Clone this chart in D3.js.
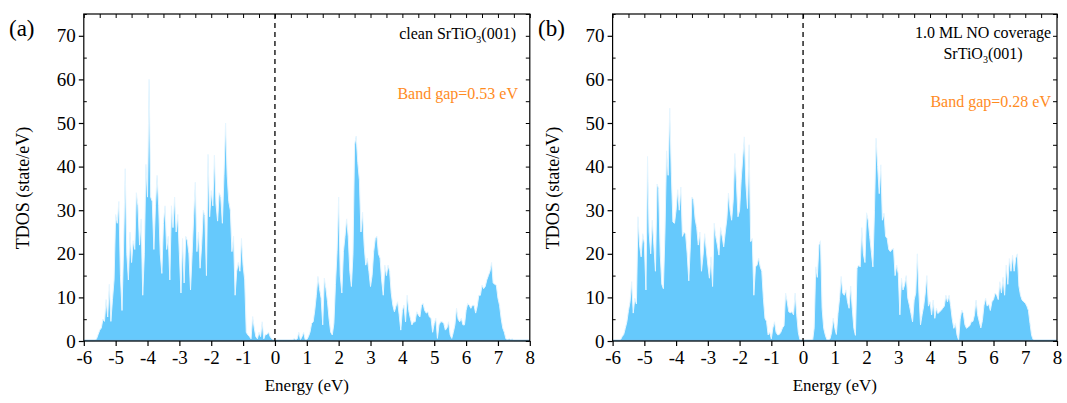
<!DOCTYPE html>
<html>
<head>
<meta charset="utf-8">
<script src="https://cdn.jsdelivr.net/npm/d3@7/dist/d3.min.js"></script>
<style>
  body { margin: 0; background: #fff; }
  svg { display: block; }
  svg text { font-family: "Liberation Serif", "Times New Roman", Times, "DejaVu Serif", serif; }
</style>
</head>
<body>
<svg id="chart" width="1067" height="403"></svg>
<script>
// energy grid (eV), 0.05 eV sampling
var energy = [
  -6,-5.95,-5.9,-5.85,-5.8,-5.75,-5.7,-5.65,-5.6,-5.55,-5.5,-5.45,-5.4,-5.35,-5.3,-5.25,-5.2,-5.15,-5.1,-5.05,
  -5,-4.95,-4.9,-4.85,-4.8,-4.75,-4.7,-4.65,-4.6,-4.55,-4.5,-4.45,-4.4,-4.35,-4.3,-4.25,-4.2,-4.15,-4.1,-4.05,
  -4,-3.95,-3.9,-3.85,-3.8,-3.75,-3.7,-3.65,-3.6,-3.55,-3.5,-3.45,-3.4,-3.35,-3.3,-3.25,-3.2,-3.15,-3.1,-3.05,
  -3,-2.95,-2.9,-2.85,-2.8,-2.75,-2.7,-2.65,-2.6,-2.55,-2.5,-2.45,-2.4,-2.35,-2.3,-2.25,-2.2,-2.15,-2.1,-2.05,
  -2,-1.95,-1.9,-1.85,-1.8,-1.75,-1.7,-1.65,-1.6,-1.55,-1.5,-1.45,-1.4,-1.35,-1.3,-1.25,-1.2,-1.15,-1.1,-1.05,
  -1,-0.95,-0.9,-0.85,-0.8,-0.75,-0.7,-0.65,-0.6,-0.55,-0.5,-0.45,-0.4,-0.35,-0.3,-0.25,-0.2,-0.15,-0.1,-0.05,
  0,0.05,0.1,0.15,0.2,0.25,0.3,0.35,0.4,0.45,0.5,0.55,0.6,0.65,0.7,0.75,0.8,0.85,0.9,0.95,
  1,1.05,1.1,1.15,1.2,1.25,1.3,1.35,1.4,1.45,1.5,1.55,1.6,1.65,1.7,1.75,1.8,1.85,1.9,1.95,
  2,2.05,2.1,2.15,2.2,2.25,2.3,2.35,2.4,2.45,2.5,2.55,2.6,2.65,2.7,2.75,2.8,2.85,2.9,2.95,
  3,3.05,3.1,3.15,3.2,3.25,3.3,3.35,3.4,3.45,3.5,3.55,3.6,3.65,3.7,3.75,3.8,3.85,3.9,3.95,
  4,4.05,4.1,4.15,4.2,4.25,4.3,4.35,4.4,4.45,4.5,4.55,4.6,4.65,4.7,4.75,4.8,4.85,4.9,4.95,
  5,5.05,5.1,5.15,5.2,5.25,5.3,5.35,5.4,5.45,5.5,5.55,5.6,5.65,5.7,5.75,5.8,5.85,5.9,5.95,
  6,6.05,6.1,6.15,6.2,6.25,6.3,6.35,6.4,6.45,6.5,6.55,6.6,6.65,6.7,6.75,6.8,6.85,6.9,6.95,
  7,7.05,7.1,7.15,7.2,7.25,7.3,7.35,7.4,7.45,7.5,7.55,7.6,7.65,7.7,7.75,7.8,7.85,7.9,7.95,
  8
];

// (a) clean SrTiO3(001)
var tdosClean = [
  0,0,0,0,0,0,0,0,0.5,1.5,2.5,3,5,4.5,9.5,5.5,13,4.5,9.5,14,
  29,27,32,15,7,22,39.5,20,14,25,18,23,21,34,31,22,28,10.5,20,40.5,
  33,60,33,32,21,31,38,31,20,15.5,27,31,21,24,14,31,26,33,25,29,
  20,11,23.5,13.3,24,23,20,11.7,20,28.8,36.4,20.5,25,16.7,22,30,28.8,15,42.8,28.5,
  34.5,31,42.6,31.4,27.5,34,33,27,38,50,38,32,30,20.5,24,10.5,16,18,16,23.5,
  17.4,14,2,1.4,1,0.5,5.6,3,1,0.5,2,1,4.4,0.5,1.5,1.5,2,1,0.5,0.2,
  0,0,0,0,0,0,0,0,0,0,0,0,0.6,0.2,0.5,2,0.3,1,2,0.3,
  0.3,1,2,4,4.4,7,10.5,14.8,12,9.8,3.7,14.4,12,9,5,2,1.4,4,13,20.5,
  33,15,11,20.5,24,28,24,16,12.5,20,45,47,41,37,25,29.5,22,17.4,19,16,
  12.5,15,20.5,23.5,24,20,19,14,10.5,17.4,15,17.4,16,11,8.2,6.7,8,9,6,2.5,
  7,8.2,4.4,10.5,7,5.2,3.7,4.4,4.4,6.7,6,5.5,8.2,8.6,7,6.4,6.7,5.5,5.2,2,
  4,5.2,0.6,3.7,4.4,4.4,4,2.5,3,4.4,1.4,0.6,2,3.7,7.5,5,4.4,5.2,3.7,3.7,
  7,8.6,8.2,7.5,8.2,8.2,6.4,8,10.5,10.5,12.8,12,12.5,14,15,16,18,13.3,13,12.8,
  9.8,8.2,5.2,3,2,0.5,0.3,0.5,0.3,0.5,0,0,0,0,0,0,0,0,0,0,
  0
];

// (b) 1.0 ML NO coverage SrTiO3(001)
var tdosNO = [
  0,0,0,0,0,0.3,1,1.5,2.9,4.4,7,9,13.6,6.4,9.8,8.5,28.5,22,19.3,24.6,
  22.4,11.7,42.3,25,20,27.7,22,16,36,35,20,13,12,25,43.6,38,53.4,38.5,27.3,27,
  30,34.7,30,35.3,24,25,24.5,20,13.8,22,33,32.4,28,26,22,25,16,19.7,24.6,21,
  17.4,14.4,19.3,12.5,27,24,22,19.7,26,24,21.6,25,28,33.9,30,27.7,32.3,43,36.5,28.5,
  30,36.9,42,46.8,36,30.4,45,22.8,23.5,10.5,17,17.4,19,17,16,9.8,5.2,4.5,1.4,2,
  0.5,3,4.4,2,1.4,1.5,2,3,3.5,11,9,6.7,6.5,6.7,6,11,6,2,0.3,0,
  0,0,0,0,0,0,0,3,17,14.6,22,23,7.5,2.9,1.4,0.3,0.2,0.5,2,5.2,
  2.9,1.5,6.3,9.8,14.8,11,10.5,11.7,9,7.5,12.6,7.5,2.9,1.3,16.7,17.4,17,26,20,18,
  29.4,27.7,24,20.5,17,30,46.5,40,33.8,40.4,27.7,29.3,24,23.5,21,20.5,21,21.2,15,17.4,
  15.4,6,14.4,11.7,12.9,15,9.8,8.2,6.3,4.4,9.4,11,20,11,3.7,6,8,11,15,8,
  9,6,9.4,5.2,7.5,6.3,6.7,7,7.5,8,10.5,9,10.5,8,5,2.9,4,1.4,0.2,5,
  7.1,6.3,3.7,2.9,3.2,3.5,4.4,4.5,6,9.4,6,4.5,3,4.7,8.2,9.8,8,8.5,7,9,
  9.5,11,10.5,9.5,13.6,11,14.6,10.5,17.4,13,18.9,16,19.7,16,19,20,12.6,10.5,9.4,9,
  8.7,8,7,4,1.3,0.3,0,0,0,0,0,0,0,0,0,0,0,0,0,0,
  0
];

var xTicks = [-6, -5, -4, -3, -2, -1, 0, 1, 2, 3, 4, 5, 6, 7, 8];
var yTicks = [0, 10, 20, 30, 40, 50, 60, 70];
var yMinor = [5, 15, 25, 35, 45, 55, 65, 75];

var svg = d3.select('#chart');

var panels = [
  { tag: '(a)', tagX: 9, x0: 83.8, x1: 529.8, values: tdosClean, titleX: 29,
    notes: [{ lines: [['clean SrTiO', '3', '(001)']], x: 516, y: 39, anchor: 'end' }],
    gap: 'Band gap=0.53 eV', gapY: 99, gapX: 518 },
  { tag: '(b)', tagX: 538, x0: 612.6, x1: 1057, values: tdosNO, titleX: 559,
    notes: [{ lines: [['1.0 ML NO coverage'], ['SrTiO', '3', '(001)']], x: 983, y: 38, anchor: 'middle' }],
    gap: 'Band gap=0.28 eV', gapY: 107, gapX: 1051 }
];

panels.forEach(function (p) {
  var x = d3.scaleLinear().domain([-6, 8]).range([p.x0, p.x1]);
  var y = d3.scaleLinear().domain([0, 75]).range([341, 14]);
  var g = svg.append('g');

  var area = d3.area()
    .x(function (d, i) { return x(energy[i]); })
    .y0(y(0))
    .y1(function (d) { return y(d); });
  var edge = d3.line()
    .x(function (d, i) { return x(energy[i]); })
    .y(function (d) { return y(d); });

  g.append('path').datum(p.values).attr('d', area).attr('fill', '#66c9fc');
  g.append('path').datum(p.values).attr('d', edge)
    .attr('fill', 'none').attr('stroke', '#e6f6ff').attr('stroke-width', 1);

  // zero level line
  g.append('line')
    .attr('x1', x(-6)).attr('x2', x(8)).attr('y1', y(0) - 0.5).attr('y2', y(0) - 0.5)
    .attr('stroke', '#7ab9e2').attr('stroke-width', 1.5);

  // Fermi level
  g.append('line')
    .attr('x1', x(0)).attr('x2', x(0)).attr('y1', y(75)).attr('y2', y(0))
    .attr('stroke', '#000').attr('stroke-width', 1.3).attr('stroke-dasharray', '5,4');

  // frame
  g.append('rect')
    .attr('x', x(-6)).attr('y', y(75)).attr('width', x(8) - x(-6)).attr('height', y(0) - y(75))
    .attr('fill', 'none').attr('stroke', '#000').attr('stroke-width', 1.2);

  var xAxis = g.append('g').attr('transform', 'translate(0,' + y(0) + ')')
    .call(d3.axisBottom(x).tickValues(xTicks).tickSize(5).tickPadding(5)
      .tickFormat(function (d) { return String(d); }));
  var yAxis = g.append('g').attr('transform', 'translate(' + x(-6) + ',0)')
    .call(d3.axisLeft(y).tickValues(yTicks).tickSize(5).tickPadding(3)
      .tickFormat(function (d) { return String(d); }));
  [xAxis, yAxis].forEach(function (a) {
    a.select('.domain').remove();
    a.attr('font-family', null).attr('font-size', 19);
    a.selectAll('line').attr('stroke', '#000').attr('stroke-width', 1.2);
    a.selectAll('text').attr('fill', '#000');
  });

  // inner ticks
  g.append('g').attr('transform', 'translate(' + x(-6) + ',0)')
    .call(d3.axisLeft(y).tickValues(yMinor).tickSize(-3).tickFormat(''))
    .call(function (s) { s.select('.domain').remove(); s.selectAll('line').attr('stroke', '#000'); });
  g.append('g').attr('transform', 'translate(' + x(8) + ',0)')
    .call(d3.axisRight(y).tickValues(yTicks.concat(yMinor)).tickSize(-4).tickFormat(''))
    .call(function (s) { s.select('.domain').remove(); s.selectAll('line').attr('stroke', '#000'); });
  g.append('g').attr('transform', 'translate(0,' + y(75) + ')')
    .call(d3.axisTop(x).tickValues(d3.range(-6, 8.01, 0.5)).tickSize(-4).tickFormat(''))
    .call(function (s) { s.select('.domain').remove(); s.selectAll('line').attr('stroke', '#000'); });

  // titles
  g.append('text').attr('x', (p.x0 + p.x1) / 2).attr('y', 391)
    .attr('text-anchor', 'middle').attr('font-size', 17)
    .text('Energy (eV)');
  g.append('text').attr('transform', 'translate(' + p.titleX + ',188) rotate(-90)')
    .attr('text-anchor', 'middle').attr('font-size', 18)
    .text('TDOS (state/eV)');
  g.append('text').attr('x', p.tagX).attr('y', 36)
    .attr('font-size', 23).text(p.tag);

  p.notes.forEach(function (n) {
    n.lines.forEach(function (parts, li) {
      var t = g.append('text').attr('x', n.x).attr('y', n.y + li * 21)
        .attr('text-anchor', n.anchor).attr('font-size', 16);
      parts.forEach(function (s, k) {
        var ts = t.append('tspan').text(s);
        if (k === 1) ts.attr('font-size', 10).attr('dy', 4);
        if (k === 2) ts.attr('dy', -4);
      });
    });
  });

  g.append('text').attr('x', p.gapX).attr('y', p.gapY)
    .attr('text-anchor', 'end').attr('font-size', 16)
    .attr('fill', '#ff8b1e').text(p.gap);
});
</script>
</body>
</html>
